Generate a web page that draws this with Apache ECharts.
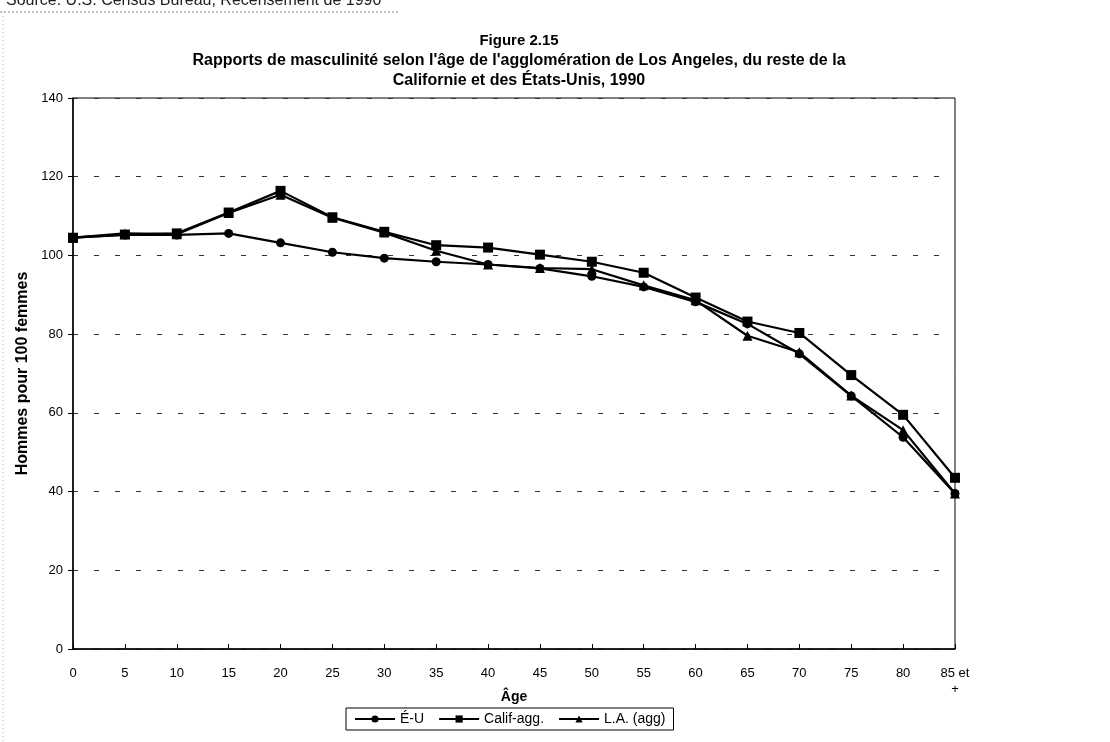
<!DOCTYPE html>
<html>
<head>
<meta charset="utf-8">
<script src="https://cdn.jsdelivr.net/npm/echarts@6/dist/echarts.min.js"></script>
<style>
html,body{margin:0;padding:0;background:#fff;}
#chart{width:1110px;height:742px;}
</style>
</head>
<body>
<div id="chart"></div>
<script>
const ages = ['0','5','10','15','20','25','30','35','40','45','50','55','60','65','70','75','80','85 et\n+'];
const yTicks = [0,20,40,60,80,100,120,140];
const eu    = [104.5,105.2,105.2,105.6,103.2,100.8,99.3,98.4,97.7,96.7,94.7,92.0,88.2,82.6,75.0,64.3,53.8,39.5];
const calif = [104.5,105.3,105.6,110.9,116.4,109.7,106.0,102.6,102.0,100.2,98.4,95.6,89.3,83.2,80.3,69.6,59.5,43.5];
const la    = [104.5,105.6,105.4,110.8,115.4,109.6,105.8,101.2,97.7,96.8,96.5,92.4,88.6,79.6,75.4,64.4,55.6,39.5];
const seriesNames = ['É-U','Calif-agg.','L.A. (agg)'];
const titleLines = ['Figure 2.15',"Rapports de masculinité selon l'âge de l'agglomération de Los Angeles, du reste de la",'Californie et des États-Unis, 1990'];
const sourceText = 'Source: U.S. Census Bureau, Recensement de 1990';
const xName = 'Âge';
const yName = 'Hommes pour 100 femmes';

const FONT = '"Liberation Sans", Arial, sans-serif';
const chart = echarts.init(document.getElementById('chart'), null, {renderer:'canvas'});
function mk(name, data, symbol, size){
  return {name, type:'line', data, symbol, symbolSize:size, showSymbol:true,
    lineStyle:{color:'#000', width:2.2}, itemStyle:{color:'#000'}, animation:false, z:3};
}
chart.setOption({
  backgroundColor:'#fff',
  animation:false,
  textStyle:{fontFamily:FONT, color:'#000'},
  title:{
    text: '{a|' + titleLines[0] + '}\n{b|' + titleLines[1] + '}\n{b|' + titleLines[2] + '}',
    left: 514, top: 26, textAlign:'center',
    textStyle:{
      rich:{
        a:{fontFamily:FONT, fontSize:15, fontWeight:'bold', color:'#000', lineHeight:20, align:'center'},
        b:{fontFamily:FONT, fontSize:16, fontWeight:'bold', color:'#000', lineHeight:20, align:'center'}
      }
    }
  },
  graphic:[
    {type:'text', left:6, top:-7, style:{text:sourceText, font:'16px "Liberation Sans", Arial, sans-serif', fill:'#222'}},
    {type:'line', shape:{x1:0,y1:12,x2:398,y2:12}, style:{stroke:'#888', lineWidth:1, lineDash:[2,2]}},
    {type:'line', shape:{x1:3,y1:12,x2:3,y2:742}, style:{stroke:'#bbb', lineWidth:1, lineDash:[1,3]}},
    {type:'text', x:514, y:690, style:{text:xName, font:'bold 14px "Liberation Sans", Arial, sans-serif', fill:'#000', textAlign:'center', textVerticalAlign:'top'}}
  ],
  legend:{
    data: seriesNames,
    bottom: 12, left: 346,
    itemWidth: 40, itemHeight: 9, itemGap: 14,
    borderColor:'#000', borderWidth:1, borderRadius:0, padding:[4,8],
    textStyle:{fontFamily:FONT, fontSize:14, color:'#000'}
  },
  grid:{left:73, right:155, top:98, bottom:93, show:true, borderColor:'#000', borderWidth:1},
  xAxis:{
    type:'category', data: ages, boundaryGap:false,
    axisLine:{lineStyle:{color:'#000', width:1.5}},
    axisTick:{inside:true, length:5, lineStyle:{color:'#000'}},
    axisLabel:{fontFamily:FONT, fontSize:13, color:'#000', margin:16, lineHeight:16},
    splitLine:{show:false}
  },
  yAxis:{
    type:'value', min:0, max:140, interval:20,
    name: yName, nameLocation:'middle', nameGap:38,
    nameTextStyle:{fontFamily:FONT, fontSize:16, fontWeight:'bold', color:'#000'},
    axisLine:{show:true, lineStyle:{color:'#000', width:1.5}},
    axisTick:{show:true, length:5, lineStyle:{color:'#000'}},
    axisLabel:{fontFamily:FONT, fontSize:13, color:'#000', margin:10,
      formatter: v => yTicks.includes(v) ? String(v) : ''},
    splitLine:{show:true, lineStyle:{color:'#333', width:1, type:[5,16]}}
  },
  series:[
    mk(seriesNames[0], eu, 'circle', 9),
    mk(seriesNames[1], calif, 'rect', 10),
    mk(seriesNames[2], la, 'triangle', 10)
  ]
});
</script>
</body>
</html>
